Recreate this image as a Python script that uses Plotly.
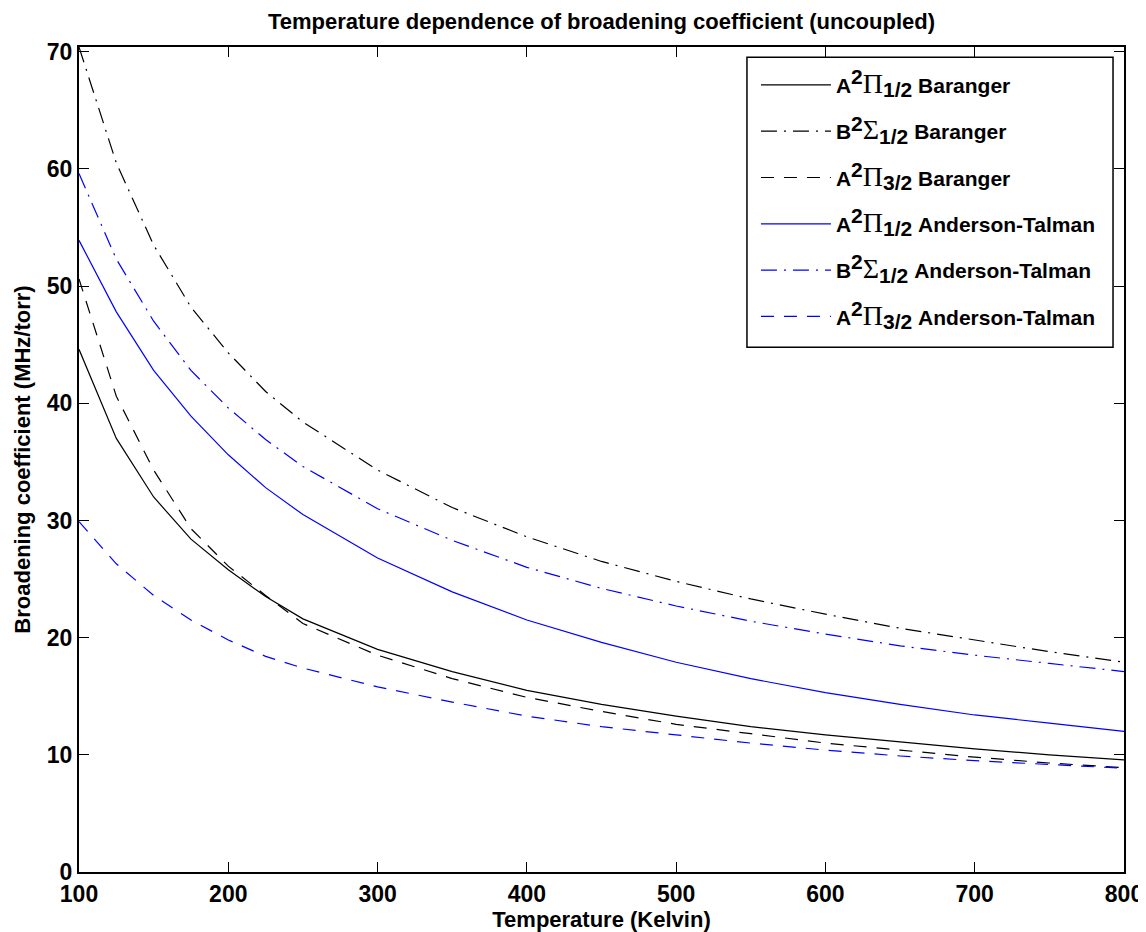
import plotly.graph_objects as go

temperature = [100, 125, 150, 175, 200, 225, 250, 300, 350, 400, 450, 500, 550, 600, 650, 700, 750, 800]

a_pi12_baranger = [44.6, 37.0, 32.0, 28.4, 25.8, 23.5, 21.6, 19.0, 17.1, 15.5, 14.3, 13.3, 12.4, 11.7, 11.1, 10.5, 10.0, 9.57]
b_sig12_baranger = [70.4, 60.5, 53.5, 48.2, 44.3, 41.0, 38.4, 34.3, 31.1, 28.6, 26.5, 24.8, 23.3, 22.0, 20.8, 19.8, 18.8, 17.9]
a_pi32_baranger = [50.6, 40.6, 34.3, 29.3, 26.1, 23.6, 21.2, 18.5, 16.5, 14.9, 13.7, 12.6, 11.8, 11.0, 10.4, 9.8, 9.3, 8.9]
a_pi12_at = [53.9, 47.8, 42.8, 38.9, 35.6, 32.8, 30.5, 26.8, 23.9, 21.5, 19.6, 17.9, 16.5, 15.3, 14.3, 13.4, 12.7, 12.0]
b_sig12_at = [59.6, 52.3, 47.0, 42.8, 39.6, 36.9, 34.6, 31.0, 28.3, 26.0, 24.2, 22.7, 21.4, 20.3, 19.3, 18.5, 17.8, 17.1]
a_pi32_at = [29.9, 26.3, 23.6, 21.5, 19.8, 18.4, 17.4, 15.8, 14.5, 13.3, 12.4, 11.7, 11.0, 10.4, 9.9, 9.5, 9.15, 8.85]

SUP = '<sup><span style="font-size:21px">2</span></sup>'
PI = "<span style=\"font-family:'Liberation Serif';font-weight:normal;font-size:28px\">\u03a0</span>"
SIG = "<span style=\"font-family:'Liberation Serif';font-weight:normal;font-size:28px\">\u03a3</span>"
def sub(t):
    return '<sub><span style="font-size:21px">' + t + '</span></sub>'

names = [
    "A" + SUP + PI + sub("1/2") + " Baranger",
    "B" + SUP + SIG + sub("1/2") + " Baranger",
    "A" + SUP + PI + sub("3/2") + " Baranger",
    "A" + SUP + PI + sub("1/2") + " Anderson-Talman",
    "B" + SUP + SIG + sub("1/2") + " Anderson-Talman",
    "A" + SUP + PI + sub("3/2") + " Anderson-Talman",
]
series = [a_pi12_baranger, b_sig12_baranger, a_pi32_baranger, a_pi12_at, b_sig12_at, a_pi32_at]
colors = ["black", "black", "black", "#0000ff", "#0000ff", "#0000ff"]
dashes = ["solid", "16px,7px,2px,7px", "13px,10px", "solid", "16px,7px,2px,7px", "13px,10px"]

fig = go.Figure()
for i, (nm, ys, c, d) in enumerate(zip(names, series, colors, dashes)):
    fig.add_trace(go.Scatter(
        x=temperature, y=ys, mode="lines", name=nm,
        line=dict(color=c, width=1.2, dash=d),
        legendgroup=f"g{i}",
    ))

font_family = "Liberation Sans, Arial, sans-serif"
fig.update_layout(
    width=1138, height=924,
    paper_bgcolor="white", plot_bgcolor="white",
    margin=dict(l=71, r=22, t=39, b=60),
    title=dict(text="Temperature dependence of broadening coefficient (uncoupled)",
               xref="paper", x=0.5, xanchor="center", y=0.986, yanchor="middle",
               font=dict(family=font_family, size=22, color="black", weight="bold")),
    font=dict(family=font_family, color="black"),
    legend=dict(
        x=0.6478, xanchor="left", y=0.9785, yanchor="top",
        bgcolor="rgba(0,0,0,0)", borderwidth=0,
        font=dict(family=font_family, size=21, color="black", weight="bold"),
        traceorder="grouped", tracegroupgap=16, itemwidth=70,
    ),
    shapes=[dict(type="rect", xref="paper", yref="paper",
                 x0=0.6392, x1=0.9895, y0=0.6361, y1=0.9875,
                 line=dict(color="black", width=1.5), fillcolor="white", layer="above")],
    xaxis=dict(
        range=[100, 800], tickvals=[100, 200, 300, 400, 500, 600, 700, 800],
        ticks="inside", ticklen=10, tickwidth=1, tickcolor="black",
        showline=True, linecolor="black", linewidth=2, mirror="ticks",
        showgrid=False, zeroline=False, automargin=False,
        tickfont=dict(family=font_family, size=23, color="black", weight="bold"),
        title=dict(text="Temperature (Kelvin)", standoff=0,
                   font=dict(family=font_family, size=22, color="black", weight="bold")),
    ),
    yaxis=dict(
        range=[0, 70.4], tickvals=[0, 10, 20, 30, 40, 50, 60, 70],
        ticks="inside", ticklen=10, tickwidth=1, tickcolor="black",
        showline=True, linecolor="black", linewidth=2, mirror="ticks",
        showgrid=False, zeroline=False, automargin=False,
        tickfont=dict(family=font_family, size=23, color="black", weight="bold"),
        title=dict(text="Broadening coefficient (MHz/torr)", standoff=10,
                   font=dict(family=font_family, size=22, color="black", weight="bold")),
    ),
)

fig.write_html("out.html")
